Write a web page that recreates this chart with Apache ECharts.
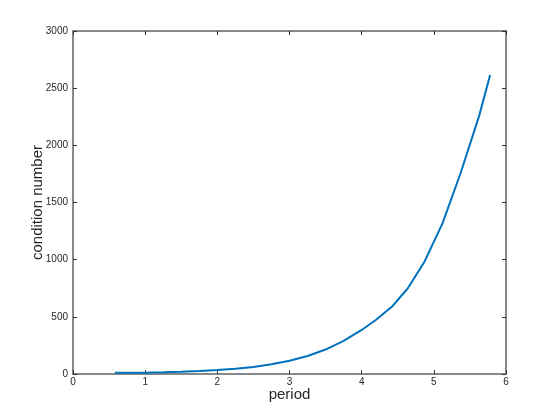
<!DOCTYPE html>
<html>
<head>
<meta charset="utf-8">
<script src="https://cdn.jsdelivr.net/npm/echarts@6/dist/echarts.min.js"></script>
<style>
  html, body { margin: 0; padding: 0; background: #fff; }
  #chart { width: 560px; height: 420px; }
</style>
</head>
<body>
<div id="chart"></div>
<script>
// period values (x) and condition numbers (y)
var period = [0.58, 0.8, 1.0, 1.25, 1.5, 1.75, 2.0, 2.25, 2.5, 2.75, 3.0, 3.25, 3.5,
              3.75, 4.0, 4.2, 4.43, 4.64, 4.87, 5.12, 5.37, 5.63, 5.78];
var condNumber = [10, 10, 12, 15, 20, 26, 34, 45, 62, 85, 116, 158, 214,
                  290, 385, 475, 595, 750, 982, 1318, 1756, 2262, 2615];

var xTicks = [0, 1, 2, 3, 4, 5, 6];
var yTicks = [0, 500, 1000, 1500, 2000, 2500, 3000];

var axisGray = '#888888';
var labelColor = '#262626';
var font = 'Helvetica, "Liberation Sans", Arial, sans-serif';

var points = period.map(function (p, i) { return [p, condNumber[i]]; });

var chart = echarts.init(document.getElementById('chart'));

var commonLine = { show: true, onZero: false, lineStyle: { color: axisGray, width: 2 } };
var commonTick = { show: true, inside: true, length: 4, lineStyle: { color: '#333', width: 1 } };

chart.setOption({
  animation: false,
  grid: { left: 73, right: 54, top: 31, bottom: 46, containLabel: false },
  xAxis: [
    {
      type: 'value',
      min: xTicks[0], max: xTicks[xTicks.length - 1], interval: 1,
      name: 'period', nameLocation: 'middle', nameGap: 13, nameMoveOverlap: false,
      nameTextStyle: { fontSize: 15, color: labelColor, fontFamily: font },
      axisLine: commonLine, axisTick: commonTick,
      axisLabel: { color: labelColor, fontSize: 10, margin: 3, fontFamily: font,
                   formatter: function (v) { return String(v); } },
      splitLine: { show: false }
    },
    {
      type: 'value', position: 'top',
      min: xTicks[0], max: xTicks[xTicks.length - 1], interval: 1,
      axisLine: commonLine, axisTick: commonTick,
      axisLabel: { show: false }, splitLine: { show: false }
    }
  ],
  yAxis: [
    {
      type: 'value',
      min: yTicks[0], max: yTicks[yTicks.length - 1], interval: 500,
      name: 'condition number', nameLocation: 'middle', nameGap: 28, nameMoveOverlap: false,
      nameTextStyle: { fontSize: 15, color: labelColor, fontFamily: font },
      axisLine: commonLine, axisTick: commonTick,
      axisLabel: { color: labelColor, fontSize: 10, margin: 5, fontFamily: font,
                   formatter: function (v) { return String(v); } },
      splitLine: { show: false }
    },
    {
      type: 'value', position: 'right',
      min: yTicks[0], max: yTicks[yTicks.length - 1], interval: 500,
      axisLine: commonLine, axisTick: commonTick,
      axisLabel: { show: false }, splitLine: { show: false }
    }
  ],
  series: [
    {
      type: 'line',
      data: points,
      showSymbol: false,
      lineStyle: { color: '#0072BD', width: 2 },
      z: 1
    }
  ]
});
</script>
</body>
</html>
